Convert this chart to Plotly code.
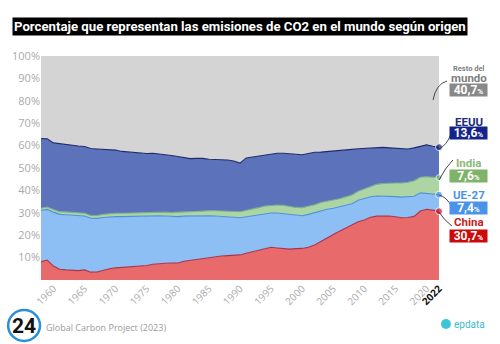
import plotly.graph_objects as go

years = list(range(1958, 2023))

china = [8.2, 8.9, 6.2, 4.8, 4.5, 4.3, 4.2, 4.5, 3.5, 3.6,
         4.4, 5.0, 5.4, 5.6, 5.7, 6.0, 6.4, 6.5, 7.0, 7.4,
         7.5, 7.6, 7.6, 8.4, 8.8, 9.2, 9.6, 10.1, 10.4, 10.7,
         10.9, 11.0, 11.2, 11.9, 12.6, 13.3, 14.1, 14.6, 14.3, 14.0,
         13.8, 14.0, 14.1, 14.6, 15.6, 17.2, 18.6, 20.3, 21.8, 23.2,
         24.4, 26.0, 26.8, 28.0, 28.5, 28.7, 28.6, 28.2, 27.8, 27.9,
         28.4, 30.8, 31.6, 31.2, 30.7]

ue27 = [22.8, 22.6, 24.1, 24.5, 24.6, 24.7, 24.6, 24.1, 24.1, 23.9,
        23.5, 23.2, 22.9, 22.7, 22.7, 22.4, 22.1, 22.1, 21.8, 21.3,
        21.1, 20.8, 20.7, 20.1, 19.8, 19.5, 19.1, 18.6, 18.2, 17.8,
        17.3, 17.0, 16.6, 16.3, 16.2, 16.0, 15.6, 15.3, 15.6, 15.6,
        15.4, 14.8, 14.6, 14.7, 14.4, 13.8, 13.0, 11.7, 10.8, 10.1,
        9.6, 9.6, 9.7, 9.2, 9.0, 8.8, 8.7, 9.0, 9.2, 9.2,
        9.0, 8.1, 7.2, 7.2, 7.4]

india = [1.0, 1.1, 1.2, 1.2, 1.3, 1.3, 1.3, 1.2, 1.2, 1.3,
         1.4, 1.4, 1.5, 1.5, 1.5, 1.6, 1.6, 1.6, 1.6, 1.7,
         1.7, 1.7, 1.8, 1.9, 1.9, 2.0, 2.1, 2.2, 2.3, 2.4,
         2.5, 2.6, 2.7, 2.8, 2.8, 3.0, 3.3, 3.5, 3.6, 3.7,
         3.6, 3.6, 3.6, 3.6, 3.6, 3.6, 3.5, 3.6, 3.7, 3.8,
         4.0, 4.0, 4.1, 4.6, 5.2, 5.6, 6.0, 6.1, 6.3, 6.5,
         6.9, 7.0, 7.3, 7.6, 7.6]

eeuu = [31.2, 30.4, 29.7, 30.3, 30.2, 29.9, 29.7, 29.8, 29.9, 29.7,
        29.1, 28.6, 28.2, 27.6, 27.3, 26.8, 26.5, 26.3, 26.2, 25.9,
        25.9, 25.5, 25.0, 24.1, 23.7, 23.6, 23.5, 23.0, 22.9, 22.8,
        22.9, 22.5, 21.7, 23.5, 23.3, 23.0, 22.9, 23.0, 23.1, 23.3,
        23.6, 23.8, 23.6, 23.6, 23.4, 22.5, 22.2, 21.8, 21.5, 21.0,
        20.3, 19.0, 18.2, 17.2, 16.5, 16.1, 15.7, 15.5, 15.3, 14.9,
        14.7, 13.9, 14.2, 13.7, 13.6]

resto = [36.8, 37.0, 38.8, 39.2, 39.4, 39.8, 40.2, 40.4, 41.3, 41.5,
         41.6, 41.8, 42.0, 42.6, 42.8, 43.2, 43.4, 43.5, 43.4, 43.7,
         43.8, 44.4, 44.9, 45.5, 45.8, 45.7, 45.7, 46.1, 46.2, 46.3,
         46.4, 46.9, 47.8, 45.5, 45.1, 44.7, 44.1, 43.6, 43.4, 43.4,
         43.6, 43.8, 44.1, 43.5, 43.0, 42.9, 42.7, 42.6, 42.2, 41.9,
         41.7, 41.4, 41.2, 41.0, 40.8, 40.8, 41.0, 41.2, 41.4, 41.5,
         41.0, 40.2, 39.7, 40.3, 40.7]

x_ticks = [1960, 1965, 1970, 1975, 1980, 1985, 1990, 1995, 2000, 2005, 2010, 2015, 2020, 2022]
y_ticks = [10, 20, 30, 40, 50, 60, 70, 80, 90, 100]

labels = ["China", "UE-27", "India", "EEUU", "Resto del mundo"]
final_text = ["30,7", "7,4", "7,6", "13,6", "40,7"]

fills = ["#e86a6b", "#8dbef4", "#add5a4", "#5c73bc", "#d4d4d4"]
lines = ["#a8344e", "#4b92dc", "#79b08e", "#1d2a6c", "rgba(0,0,0,0)"]
label_col = ["#c81e26", "#4a93e4", "#8cb87a", "#1b2a7a", "#808080"]
box_col = ["#cc0a0a", "#4a93e8", "#7eb36a", "#15238a", "#888888"]

series = [china, ue27, india, eeuu, resto]

fig = go.Figure()
for name, vals, fc, lc in zip(labels, series, fills, lines):
    fig.add_trace(go.Scatter(
        x=years, y=vals, name=name, mode="lines", stackgroup="one",
        fillcolor=fc, line=dict(color=lc, width=1.1), hoverinfo="skip"))

# end dots (cumulative tops at last year)
cum = 0
dot_y = []
for vals in series[:4]:
    cum += vals[-1]
    dot_y.append(cum)
fig.add_trace(go.Scatter(
    x=[years[-1]] * 4, y=dot_y, mode="markers", cliponaxis=False,
    marker=dict(size=[7, 7, 6, 7], color=["#c8102e", "#4a93e4", "#8cb87a", "#13236e"]),
    hoverinfo="skip"))

W, H = 500, 344
L, R, T, B = 39, 61, 56, 64
pw, ph = W - L - R, H - T - B


def px(x):
    return (x - L) / pw


def py(y):
    return (H - B - y) / ph


shapes = []
annotations = []
FONT = "Roboto"

# Title
annotations.append(dict(
    xref="paper", yref="paper", x=px(10), y=py(27), xanchor="left", yanchor="middle",
    text="<b>Porcentaje que representan las emisiones de CO2 en el mundo según origen</b>",
    showarrow=False, bgcolor="#000000", borderpad=1,
    font=dict(family=FONT, size=13.2, color="white")))

# Right side labels
name_pos = [222, 194.5, 162.5, 121.5, None]
box_pos = [(230, 242), (202, 213), (170, 182), (127, 138), (84, 96)]
conn = [((439, 212), (444, 220), (452, 226)),
        ((439, 195), (447, 197), (452, 207)),
        ((439, 180), (445, 168), (453, 160)),
        ((439, 149), (447, 145), (451, 134)),
        ((433, 100), (436, 84), (447, 81))]
short = ["China", "UE-27", "India", "EEUU", None]
for i in range(5):
    y0, y1 = box_pos[i]
    annotations.append(dict(
        xref="paper", yref="paper", x=px(468.5), y=py((y0 + y1) / 2),
        xanchor="center", yanchor="middle", showarrow=False,
        width=37, height=12, borderpad=0, bgcolor=box_col[i],
        text="<b>" + final_text[i] + "<span style='font-size:8px'>%</span></b>",
        font=dict(family=FONT, size=12, color="white")))
    if short[i]:
        annotations.append(dict(
            xref="paper", yref="paper", x=px(469), y=py(name_pos[i]),
            xanchor="center", yanchor="middle", showarrow=False,
            height=10, borderpad=0,
            text="<b>" + short[i] + "</b>",
            font=dict(family=FONT, size=11.5, color=label_col[i])))
    (ax, ay), (cx, cy), (bx, by) = conn[i]
    shapes.append(dict(type="path", xref="paper", yref="paper",
                       path=f"M {px(ax)},{py(ay)} Q {px(cx)},{py(cy)} {px(bx)},{py(by)}",
                       line=dict(color="#333333", width=0.9)))

annotations.append(dict(
    xref="paper", yref="paper", x=px(469), y=py(68.5), xanchor="center", yanchor="middle",
    showarrow=False, text="<b>Resto del</b>", height=7, borderpad=0,
    font=dict(family=FONT, size=7.5, color="#808080")))
annotations.append(dict(
    xref="paper", yref="paper", x=px(469), y=py(78), xanchor="center", yanchor="middle",
    showarrow=False, text="<b>mundo</b>", height=10, borderpad=0,
    font=dict(family=FONT, size=11.5, color="#808080")))

# Footer
shapes.append(dict(type="circle", xref="paper", yref="paper",
                   x0=px(6), x1=px(38), y0=py(341), y1=py(310),
                   line=dict(color="#2b8fd6", width=2.5)))
annotations.append(dict(
    xref="paper", yref="paper", x=px(22), y=py(326), xanchor="center", yanchor="middle",
    showarrow=False, text="<b>24</b>",
    font=dict(family=FONT, size=21, color="#111111")))
annotations.append(dict(
    xref="paper", yref="paper", x=px(42), y=py(327), xanchor="left", yanchor="middle",
    showarrow=False, text="Global Carbon Project (2023)",
    font=dict(family="Open Sans", size=9, color="#9a9a9a")))
shapes.append(dict(type="circle", xref="paper", yref="paper",
                   x0=px(441), x1=px(451), y0=py(329), y1=py(319),
                   fillcolor="#3cc6d8", line=dict(width=0)))
annotations.append(dict(
    xref="paper", yref="paper", x=px(452), y=py(324), xanchor="left", yanchor="middle",
    showarrow=False, text="epdata",
    font=dict(family=FONT, size=10, color="#3cbccc")))

xticktext = [str(v) for v in x_ticks[:-1]] + ["<b><span style='color:#111111'>2022</span></b>"]
yticktext = [f"{v}%" for v in y_ticks]

fig.update_layout(
    width=W, height=H, margin=dict(l=L, r=R, t=T, b=B),
    paper_bgcolor="white", plot_bgcolor="white", showlegend=False,
    shapes=shapes, annotations=annotations,
    xaxis=dict(range=[1958, 2022], tickvals=x_ticks, ticktext=xticktext, tickangle=-45,
               tickfont=dict(family="Open Sans", size=10, color="#aaaaaa"),
               showgrid=False, zeroline=False, showline=False, ticks=""),
    yaxis=dict(range=[0, 100], tickvals=y_ticks, ticktext=yticktext,
               tickfont=dict(family="Open Sans", size=11, color="#aaaaaa"),
               showgrid=False, zeroline=False, showline=False, ticks=""),
)

fig.write_html("out.html")
